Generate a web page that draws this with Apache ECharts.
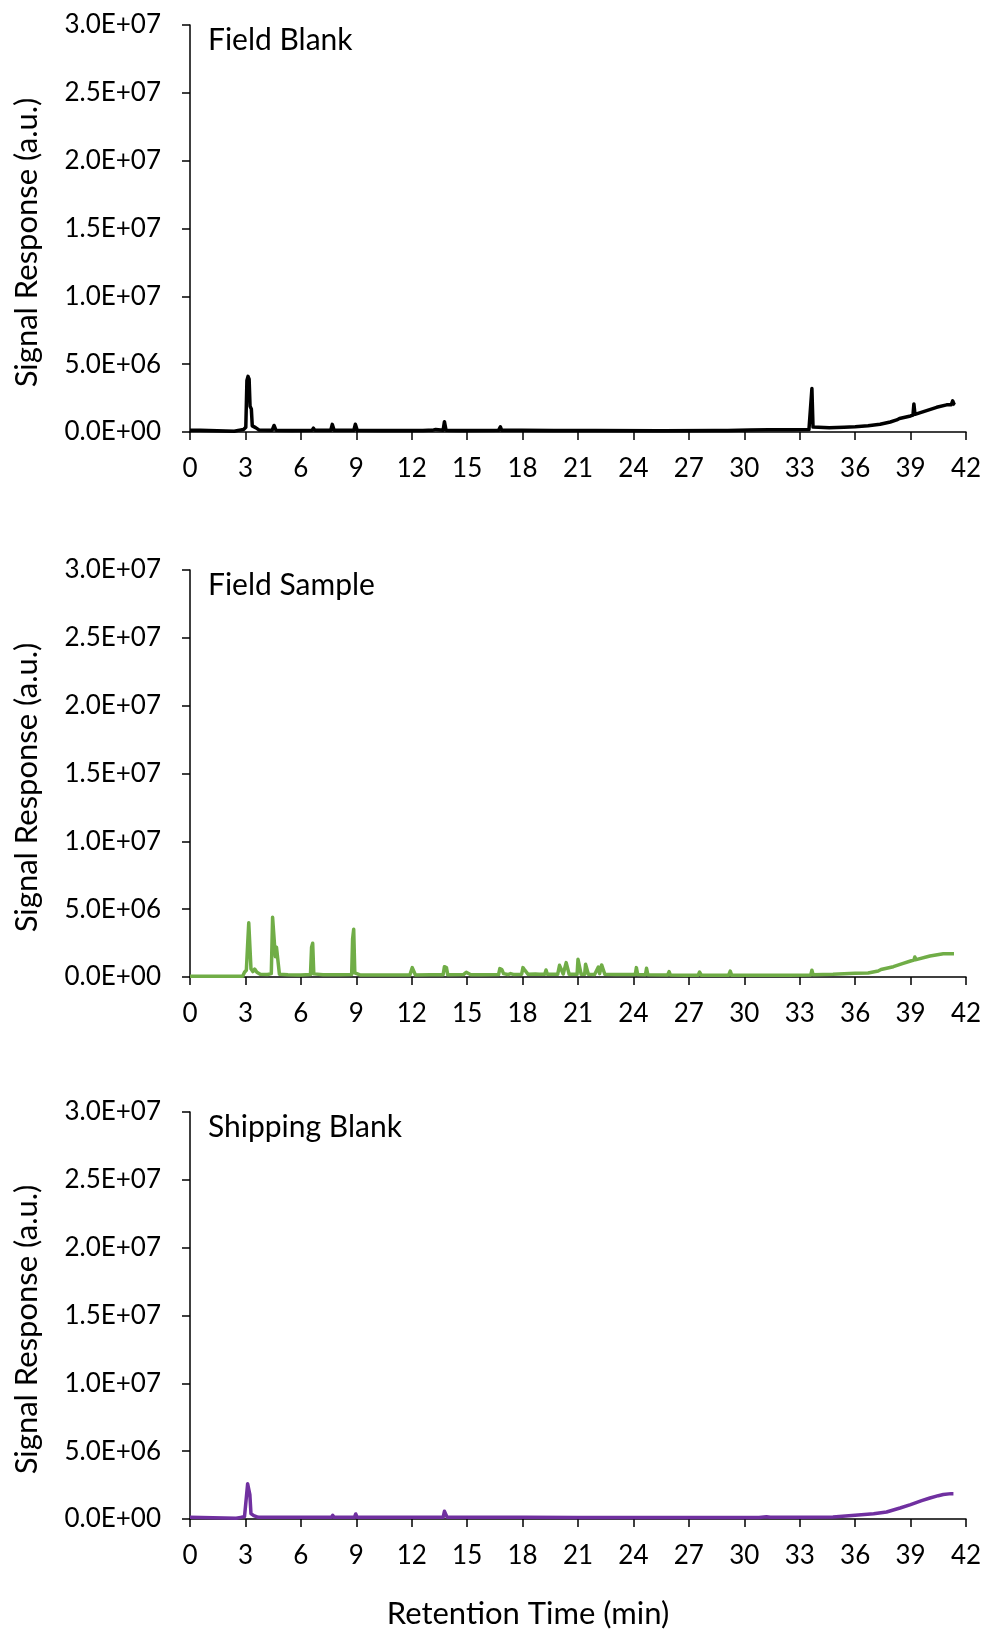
<!DOCTYPE html>
<html>
<head>
<meta charset="utf-8">
<script src="https://cdn.jsdelivr.net/npm/echarts@6/dist/echarts.min.js"></script>
<style>
  html, body { margin: 0; padding: 0; background: #fff; }
  #chart { width: 985px; height: 1631px; }
</style>
</head>
<body>
<div id="chart"></div>
<script>
// Chromatogram traces: [retention time (min), signal response (a.u.)]
const fieldBlankTrace = [
  [0.0,1.3e5],[0.55,1.2e5],[0.65,6e4],[2.4,6e4],[2.6,1.2e5],[2.9,1.8e5],[3.02,3.5e5],[3.08,3.8e6],[3.14,4.1e6],[3.2,3.9e6],
  [3.25,1.9e6],[3.32,1.7e6],[3.37,4.5e5],[3.55,3.2e5],[3.75,1.4e5],[4.45,1.3e5],[4.55,4.8e5],[4.65,1.3e5],[5.5,1.1e5],
  [6.6,1.2e5],[6.68,2.8e5],[6.76,1.2e5],[7.62,1.3e5],[7.7,5.6e5],[7.8,1.3e5],[8.87,1.3e5],[8.95,5.7e5],[9.05,1.2e5],
  [10.4,1.1e5],[10.5,1.8e5],[10.6,1.1e5],[12.4,1.1e5],[12.5,1.9e5],[12.6,1.1e5],[12.9,1.2e5],[13.0,2e5],[13.1,1.2e5],
  [13.3,1.9e5],[13.4,1.2e5],[13.7,1.3e5],[13.77,7.6e5],[13.86,1.3e5],[14.6,1.1e5],[14.7,1.8e5],[14.8,1.1e5],
  [16.7,1.2e5],[16.8,3.8e5],[16.87,1.2e5],[17.05,1.2e5],[17.1,2.4e5],[17.15,1.2e5],[17.95,1.2e5],[18.0,2.2e5],[18.05,1.2e5],
  [19.7,1.1e5],[19.8,2.0e5],[19.9,1.1e5],[20.4,1.1e5],[20.5,2.2e5],[20.6,1.1e5],[21.7,1.1e5],[21.8,2e5],[21.9,1.1e5],
  [25.4,1.0e5],[25.5,1.6e5],[25.6,1.0e5],[28.4,1.1e5],[28.5,1.8e5],[28.6,1.1e5],[28.9,1.1e5],[29.0,2e5],[29.1,1.1e5],
  [30.3,1.5e5],[31.3,1.6e5],[31.4,3.0e5],[31.5,1.6e5],[32.5,1.7e5],[33.5,1.8e5],[33.6,2.6e5],[33.66,3.2e6],[33.72,3.6e5],
  [33.8,2.8e5],[34.6,3.2e5],[35.4,3.5e5],[36.0,3.9e5],[36.7,4.6e5],[37.35,5.7e5],[37.9,7.4e5],[38.25,8.9e5],[38.4,1.0e6],
  [38.5,9.5e5],[39.0,1.18e6],[39.13,1.25e6],[39.18,2.07e6],[39.24,1.3e6],[39.7,1.5e6],[40.41,1.82e6],[40.95,2.0e6],
  [41.2,2.0e6],[41.28,2.3e6],[41.35,2.05e6],[41.4,2.0e6]
];

const fieldSampleTrace = [
  [0.0,5e4],[2.85,5e4],[2.95,3.5e5],[3.05,5e5],[3.12,2.4e6],[3.18,4.0e6],[3.24,3.9e6],[3.3,6e5],[3.4,4e5],[3.5,5.8e5],
  [3.62,3.5e5],[3.8,2.0e5],[4.2,1.8e5],[4.4,2.5e5],[4.47,4.4e6],[4.55,4.43e6],[4.62,1.5e6],[4.68,2.2e6],[4.78,2.2e6],
  [4.84,2.0e5],[5.3,1.6e5],[5.8,1.5e5],[5.9,2.3e5],[6.0,1.5e5],[6.52,1.8e5],[6.58,2.2e6],[6.64,2.49e6],[6.7,2.3e5],
  [7.2,1.6e5],[7.3,2.8e5],[7.42,1.6e5],[7.75,1.6e5],[7.82,2.4e5],[7.9,1.6e5],[8.0,2.6e5],[8.1,1.6e5],[8.75,1.8e5],
  [8.8,2.8e6],[8.86,3.52e6],[8.92,3.0e5],[9.2,1.5e5],[10.0,1.5e5],[10.1,2.0e5],[10.2,1.5e5],[11.9,1.5e5],[12.03,6.9e5],
  [12.12,6.6e5],[12.2,1.5e5],[13.0,1.6e5],[13.1,2.2e5],[13.2,1.6e5],[13.7,1.6e5],[13.77,7.6e5],[13.88,7.0e5],[13.95,1.6e5],
  [14.8,1.8e5],[14.95,3.5e5],[15.05,2.5e5],[15.2,1.6e5],[15.6,1.7e5],[15.7,2.5e5],[15.8,1.7e5],[16.7,1.8e5],[16.77,6.2e5],
  [16.88,5.5e5],[16.97,2.5e5],[17.2,1.8e5],[17.35,2.5e5],[17.5,1.9e5],[17.95,2.0e5],[18.02,6.9e5],[18.12,5.0e5],
  [18.22,4.0e5],[18.3,2.0e5],[18.7,2.2e5],[18.8,2.8e5],[18.9,2.1e5],[19.2,2.1e5],[19.27,5.2e5],[19.34,2.1e5],
  [19.9,2.0e5],[20.0,8.6e5],[20.1,8.6e5],[20.2,2.2e5],[20.3,2.2e5],[20.36,1.06e6],[20.44,1.0e6],[20.52,2.0e5],
  [20.95,2.0e5],[21.0,1.3e6],[21.1,1.28e6],[21.17,2.0e5],[21.36,2.0e5],[21.41,9.4e5],[21.5,9e5],[21.56,2.0e5],
  [21.9,1.9e5],[22.1,7.4e5],[22.17,2.5e5],[22.28,8.9e5],[22.38,8.6e5],[22.45,2.0e5],[23.0,1.9e5],[23.1,2.6e5],
  [23.2,1.8e5],[23.5,1.8e5],[23.6,2.6e5],[23.7,1.8e5],[24.1,1.8e5],[24.16,6.9e5],[24.23,1.8e5],[24.65,1.7e5],
  [24.71,6.4e5],[24.78,1.7e5],[25.85,1.4e5],[25.93,4.0e5],[26.0,1.4e5],[26.8,1.2e5],[27.5,1.2e5],[27.58,3.7e5],
  [27.68,1.2e5],[28.5,1.2e5],[28.57,2.6e5],[28.65,1.2e5],[29.15,1.2e5],[29.24,4.4e5],[29.32,1.2e5],[30.45,1.2e5],
  [30.52,2.6e5],[30.6,1.2e5],[31.5,1.3e5],[31.6,2.4e5],[31.7,1.3e5],[32.2,1.3e5],[32.3,2.4e5],[32.4,1.3e5],[33.6,1.5e5],
  [33.66,5.0e5],[33.72,1.7e5],[34.8,2.0e5],[36.0,2.7e5],[36.7,3.0e5],[37.25,4.4e5],[37.4,5.5e5],[37.5,4.6e5],
  [38.07,7.6e5],[38.6,1.0e6],[39.0,1.18e6],[39.18,1.25e6],[39.23,1.48e6],[39.3,1.28e6],[40.05,1.55e6],[40.77,1.72e6],
  [41.35,1.72e6]
];

const shippingBlankTrace = [
  [0.0,1.2e5],[0.6,1.1e5],[0.7,5e4],[2.5,5e4],[2.75,1.2e5],[2.95,1.8e5],[3.05,3.0e5],[3.12,2.6e6],[3.18,2.71e6],
  [3.24,1.8e6],[3.3,4.0e5],[3.45,2.5e5],[3.7,1.2e5],[4.45,1.2e5],[4.55,2.3e5],[4.65,1.2e5],[6.55,1.2e5],[6.65,1.8e5],
  [6.75,1.2e5],[7.65,1.2e5],[7.72,2.7e5],[7.8,1.2e5],[8.9,1.2e5],[8.97,3.7e5],[9.05,1.2e5],[11.95,1.2e5],[12.05,1.7e5],
  [12.15,1.2e5],[13.7,1.2e5],[13.77,5.7e5],[13.87,4.5e5],[13.92,1.2e5],[16.75,1.2e5],[16.82,2.2e5],[16.9,1.2e5],
  [17.95,1.2e5],[18.03,2.2e5],[18.1,1.2e5],[21.0,1.1e5],[21.05,1.5e5],[21.1,1.1e5],[30.8,1.1e5],[31.2,1.7e5],
  [31.4,1.3e5],[33.0,1.3e5],[34.8,1.5e5],[36.0,2.7e5],[37.0,3.8e5],[37.7,5.2e5],[38.43,8.1e5],[39.0,1.06e6],
  [39.6,1.35e6],[40.05,1.55e6],[40.5,1.72e6],[40.77,1.8e6],[41.2,1.87e6],[41.26,1.97e6],[41.32,1.87e6]
];

const panelNames = ['Field Blank', 'Field Sample', 'Shipping Blank'];
const panelColors = ['#000000', '#70AD47', '#7030A0'];
const panelTraces = [fieldBlankTrace, fieldSampleTrace, shippingBlankTrace];

// Axis ranges and tick steps
const timeRange = [0, 42];
const timeStep = 3;
const signalRange = [0, 3.0e7];
const signalStep = 5.0e6;

const FONT = 'Lato, "Open Sans", sans-serif';
const gridTops = [25, 570, 1112];
const plotHeight = 407;

// 3.0E+07 style labels
function sciLabel(v) {
  const parts = Number(v).toExponential(1).toUpperCase().split('E');
  const sign = parts[1][0];
  const exp = parts[1].slice(1).padStart(2, '0');
  return parts[0] + 'E' + sign + exp;
}

const axisLineStyle = { color: '#000', width: 1.5 };

const grids = [], xAxes = [], yAxes = [], series = [], titles = [];
panelTraces.forEach((trace, i) => {
  grids.push({ left: 190, right: 19, top: gridTops[i], height: plotHeight, containLabel: false });
  const last = i === panelTraces.length - 1;
  xAxes.push({
    type: 'value', gridIndex: i, min: timeRange[0], max: timeRange[1], interval: timeStep,
    axisLine: { onZero: false, lineStyle: axisLineStyle },
    axisTick: { show: true, inside: false, length: 8, lineStyle: axisLineStyle },
    splitLine: { show: false },
    axisLabel: { color: '#000', fontFamily: FONT, fontSize: 26, margin: 24 },
    name: last ? 'Retention Time (min)' : '',
    nameLocation: 'middle', nameGap: 79,
    nameTextStyle: { color: '#000', fontFamily: FONT, fontSize: 31, padding: [0, 100, 0, 0] }
  });
  yAxes.push({
    type: 'value', gridIndex: i, min: signalRange[0], max: signalRange[1], interval: signalStep,
    axisLine: { show: true, lineStyle: axisLineStyle },
    axisTick: { show: true, inside: false, length: 8, lineStyle: axisLineStyle },
    splitLine: { show: false },
    axisLabel: { color: '#000', fontFamily: FONT, fontSize: 26, margin: 29, formatter: sciLabel },
    name: 'Signal Response (a.u.)',
    nameLocation: 'middle', nameGap: 148,
    nameTextStyle: { color: '#000', fontFamily: FONT, fontSize: 31, padding: [0, 28, 0, 0] }
  });
  series.push({
    type: 'line', xAxisIndex: i, yAxisIndex: i, data: trace,
    showSymbol: false, symbol: 'none', sampling: null,
    lineStyle: { color: panelColors[i], width: 3.5, join: 'round' },
    itemStyle: { color: panelColors[i] }
  });
  titles.push({
    text: panelNames[i], left: 208, top: gridTops[i], padding: 0,
    textStyle: { color: '#000', fontFamily: FONT, fontSize: 30, fontWeight: 'normal' }
  });
});

const chart = echarts.init(document.getElementById('chart'), null, { renderer: 'canvas' });
chart.setOption({
  animation: false,
  backgroundColor: '#fff',
  title: titles,
  grid: grids,
  xAxis: xAxes,
  yAxis: yAxes,
  series: series
});
</script>
</body>
</html>
